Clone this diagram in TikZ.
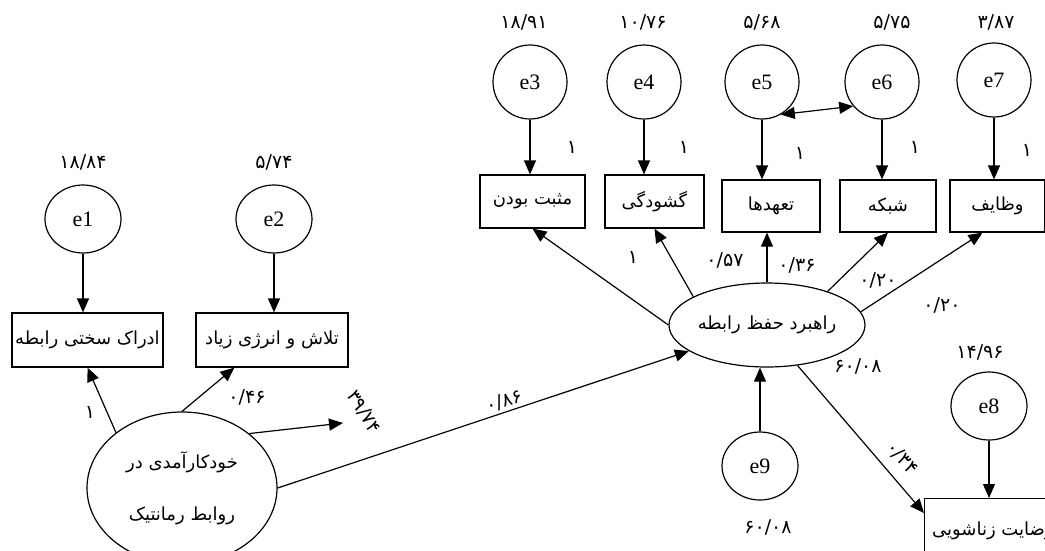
\documentclass[tikz,border=0pt]{standalone}
\usepackage{fontspec}
\setmainfont{Liberation Serif}
\newfontfamily\arabicfont[Script=Arabic]{DejaVu Sans}
\newfontfamily\numfont{DejaVu Sans}
\TeXXeTstate=1
\usetikzlibrary{shapes.geometric,arrows.meta,calc}
\newcommand\fa[1]{{\arabicfont\beginR #1\endR}}
\begin{document}
\begin{tikzpicture}[x=1pt,y=-1pt, line width=1.2pt,
  err/.style={draw,ellipse,minimum width=76pt,minimum height=68pt,inner sep=0pt,font=\fontsize{22}{24}\selectfont},
  errc/.style={err,minimum height=74pt,minimum width=74pt},
  obs/.style={draw,rectangle,inner sep=0pt,font=\fontsize{18}{22}\selectfont},
  lat/.style={draw,ellipse,inner sep=0pt,font=\fontsize{18}{22}\selectfont},
  num/.style={font=\numfont\fontsize{19}{22}\selectfont,inner sep=0pt},
  arr/.style={-{Triangle[length=14pt,width=12pt]}},
  darr/.style={{Triangle[length=14pt,width=12pt]}-{Triangle[length=14pt,width=12pt]}},
]
\useasboundingbox (0,0) rectangle (1045,550);
\clip (0,0) rectangle (1045,550);
% left error terms
\node[err] (e1) at (83,219) {e1};
\node[err] (e2) at (274,219) {e2};
\node[num] (n1) at (83,162) {۱۸/۸۴};
\node[num] (n2) at (274,162) {۵/۷۴};
\node[obs,minimum width=151pt,minimum height=54pt] (b1) at (87.5,340) {\fa{ادراک سختی رابطه}};
\node[obs,minimum width=152pt,minimum height=54pt] (b2) at (272,340) {\fa{تلاش و انرژی زیاد}};
\draw[arr] (e1.south) -- (e1.south |- b1.north);
\draw[arr] (e2.south) -- (e2.south |- b2.north);
% left latent
\node[lat,minimum width=190pt,minimum height=152pt,align=center] (L1) at (182,488) {\fa{خودکارآمدی در}\\[30pt]\fa{روابط رمانتیک}};
\draw[arr] (L1.140.6) -- (b1.south);
\draw[arr] (L1.north) -- ($(b2.south west)+(39,0)$);
\coordinate (f) at (343,423);
\draw[arr] (L1.39) -- (f);
\node[num] (l1) at (90,412) {۱};
\node[num] (l46) at (247,397) {۰/۴۶};
\node[num,rotate=-58] (l3974) at (364,412) {۳۹/۷۴};
% right latent
\node[lat,minimum width=196pt,minimum height=84pt] (R) at (767,325) {\fa{راهبرد حفظ رابطه}};
\draw[arr] (L1.east) -- (R);
\node[num,rotate=17] (l86) at (504,401) {۰/۸۶};
% top error terms
\node[errc] (e3) at (530,82) {e3};
\node[errc] (e4) at (644,82) {e4};
\node[errc] (e5) at (762,82) {e5};
\node[errc] (e6) at (882,82) {e6};
\node[errc] (e7) at (994,80) {e7};
\node[num] (n3) at (524,22) {۱۸/۹۱};
\node[num] (n4) at (643,22) {۱۰/۷۶};
\node[num] (n5) at (762,22) {۵/۶۸};
\node[num] (n6) at (892,22) {۵/۷۵};
\node[num] (n7) at (996,22) {۳/۸۷};
\node[obs,minimum width=105pt,minimum height=53pt] (b3) at (532.5,201.5) {\fa{مثبت بودن}};
\node[obs,minimum width=99pt,minimum height=53pt] (b4) at (654.5,201.5) {\fa{گشودگی}};
\node[obs,minimum width=98pt,minimum height=52pt] (b5) at (771,206) {\fa{تعهدها}};
\node[obs,minimum width=96pt,minimum height=52pt] (b6) at (888,206) {\fa{شبکه}};
\node[obs,minimum width=95pt,minimum height=52pt] (b7) at (997.5,206) {\fa{وظایف}};
\draw[arr] (e3.south) -- (e3.south |- b3.north);
\draw[arr] (e4.south) -- (e4.south |- b4.north);
\draw[arr] (e5.south) -- (e5.south |- b5.north);
\draw[arr] (e6.south) -- (e6.south |- b6.north);
\draw[arr] (e7.south) -- (e7.south |- b7.north);
\draw[darr] (e5.-60) -- (e6.-140);
\node[num] (o3) at (572,147) {۱};
\node[num] (o4) at (684,147) {۱};
\node[num] (o5) at (800,153) {۱};
\node[num] (o6) at (915,147) {۱};
\node[num] (o7) at (1027,150) {۱};
% loadings
\draw[arr] (R.west) -- (b3.south);
\draw[arr] (R.159.3) -- (b4.south);
\draw[arr] (R.north) -- (R.north |- b5.south);
\draw[arr] (R.29) -- (b6.south);
\draw[arr] (R.8) -- ($(b7.south)+(-15,0)$);
\node[num] (k1) at (633,257) {۱};
\node[num] (k2) at (725,260) {۰/۵۷};
\node[num] (k3) at (797,265) {۰/۳۶};
\node[num] (k4) at (878,280) {۰/۲۰};
\node[num] (k5) at (942,305) {۰/۲۰};
\node[num] (k6) at (858,366) {۶۰/۰۸};
% disturbance
\node[err] (e9) at (760,466) {e9};
\node[num] (n9) at (768,527) {۶۰/۰۸};
\draw[arr] (e9.north) -- (e9.north |- R.south);
% outcome
\node[draw,rectangle,anchor=north west,inner xsep=8pt,inner ysep=0pt,minimum height=64pt,font=\fontsize{18}{22}\selectfont] (b8) at (924,498) {\makebox[121pt][r]{\fa{رضایت زناشویی}}};
\node[err] (e8) at (989,406) {e8};
\node[num] (n8) at (980,352) {۱۴/۹۶};
\draw[arr] (e8.south) -- (e8.south |- b8.north);
\draw[arr] (R.-53.6) -- ($(b8.north west)+(0,15)$);
\node[num,rotate=-48] (l34) at (902,458) {۰/۳۴};
\end{tikzpicture}
\end{document}
